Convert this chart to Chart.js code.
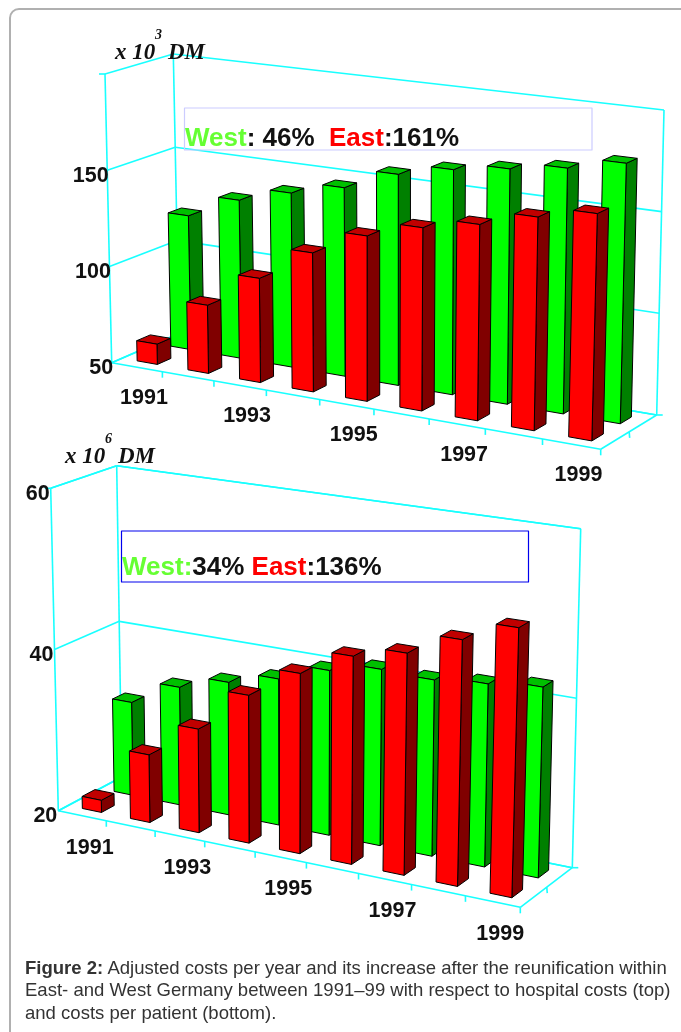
<!DOCTYPE html>
<html>
<head>
<meta charset="utf-8">
<script src="https://cdn.jsdelivr.net/npm/chart.js@4"></script>
<style>
  html, body { margin: 0; padding: 0; background: #fff; width: 681px; height: 1032px; overflow: hidden; }
  #frame { position: absolute; left: 9px; top: 8px; width: 700px; height: 1060px; border: 2px solid #b0b0b0; border-radius: 10px; box-sizing: border-box; }
  canvas { position: absolute; left: 0; top: 0; }
  #caption { position: absolute; left: 25px; top: 957px; width: 655px; font: 18.55px/22.4px "Liberation Sans", Arial, sans-serif; color: #333; white-space: nowrap; }
</style>
</head>
<body>
<div id="frame"></div>
<div id="chartTop"><canvas id="hospital"></canvas></div>
<div id="chartBottom"><canvas id="patient"></canvas></div>
<div id="caption"><b>Figure 2:</b> Adjusted costs per year and its increase after the reunification within<br>East- and West Germany between 1991–99 with respect to hospital costs (top)<br>and costs per patient (bottom).</div>
<script>
//data
var years = ["1991", "1992", "1993", "1994", "1995", "1996", "1997", "1998", "1999"]
var yearLabels = ["1991", "1993", "1995", "1997", "1999"]

var hospitalWest = [120.5, 132.5, 140, 146.5, 157, 163, 167, 171, 177]
var hospitalEast = [60.5, 85, 103, 120, 132.5, 140.5, 146, 153.5, 159]
var hospitalTicks = [50, 100, 150]

var patientWest = [31.7, 34.7, 36.4, 37.9, 40, 41.2, 41, 41.6, 42.3]
var patientEast = [21.5, 28.3, 32.6, 37.8, 41.5, 44.6, 46, 48.6, 51]
var patientTicks = [20, 40, 60]

var greenText = "#66ff33"
var redText = "#ff0000"
var cyan = "#19ffff"

//unit square -> quad
function quadMap(p0, p1, p2, p3) {
  var dx1 = p1[0] - p2[0], dx2 = p3[0] - p2[0], sx = p0[0] - p1[0] + p2[0] - p3[0]
  var dy1 = p1[1] - p2[1], dy2 = p3[1] - p2[1], sy = p0[1] - p1[1] + p2[1] - p3[1]
  var den = dx1 * dy2 - dx2 * dy1
  var g = (sx * dy2 - dx2 * sy) / den
  var h = (dx1 * sy - sx * dy1) / den
  var a = p1[0] - p0[0] + g * p1[0], b = p3[0] - p0[0] + h * p3[0]
  var d = p1[1] - p0[1] + g * p1[1], e = p3[1] - p0[1] + h * p3[1]
  return function(u, v) {
    var q = g * u + h * v + 1
    return [(a * u + b * v + p0[0]) / q, (d * u + e * v + p0[1]) / q]
  }
}

//the plugin draws the walls, the floor and the bars in oblique view, going through the chart scales
var box3d = {
  id: "box3d",
  afterDatasetsDraw: function(chart) {
    var o = chart.options.plugins.box3d
    var ctx = chart.ctx, area = chart.chartArea
    var xs = chart.scales.x, ys = chart.scales.y
    var floor = quadMap(o.floor[0], o.floor[1], o.floor[2], o.floor[3])
    var ceil = quadMap(o.ceil[0], o.ceil[1], o.ceil[2], o.ceil[3])
    function project(u, v, w) {
      var a = floor(u, v), b = ceil(u, v)
      return [a[0] + (b[0] - a[0]) * w, a[1] + (b[1] - a[1]) * w]
    }
    function uOf(px) { return (px - area.left) / area.width }
    function wOf(py) { return (area.bottom - py) / area.height }
    function line(a, b) {
      ctx.beginPath(); ctx.moveTo(a[0], a[1]); ctx.lineTo(b[0], b[1]); ctx.stroke()
    }
    function face(pts, fill) {
      ctx.beginPath()
      pts.forEach(function(p, i) { i ? ctx.lineTo(p[0], p[1]) : ctx.moveTo(p[0], p[1]) })
      ctx.closePath()
      ctx.fillStyle = fill
      ctx.fill()
      ctx.stroke()
    }

    ctx.save()
    //walls and floor
    ctx.strokeStyle = cyan
    ctx.lineWidth = 1.6
    line(project(0, 0, 0), project(0, 0, 1))
    line(project(0, 1, 0), project(0, 1, 1))
    line(project(1, 1, 0), project(1, 1, 1))
    line(project(0, 0, 0), project(1, 0, 0))
    line(project(1, 0, 0), project(1, 1, 0))
    line(project(0, 0, 0), project(0, 1, 0))
    line(project(0, 1, 0), project(1, 1, 0))
    line(project(0, 0, 1), project(0, 1, 1))
    line(project(0, 1, 1), project(1, 1, 1))
    o.ticks.forEach(function(t) {
      var w = wOf(ys.getPixelForValue(t))
      line(project(0, 0, w), project(0, 1, w))
      line(project(0, 1, w), project(1, 1, w))
    })
    //tick marks on the floor edges
    var tickU = years.map(function(y, i) { return uOf(xs.getPixelForValue(i) + xs.width / years.length / 2) })
    tickU.forEach(function(u) {
      var p = project(u, 0, 0)
      line(p, [p[0], p[1] + 6])
    })
    var side = project(1, 0.5, 0)
    line(side, [side[0] + 0.5, side[1] + 6])
    var corner = project(1, 1, 0)
    line(corner, [corner[0] + 6, corner[1]])
    var topCorner = project(0, 0, 1)
    line(topCorner, [topCorner[0] - 6, topCorner[1]])

    //bars: far row first, left to right
    ctx.strokeStyle = "#000"
    ctx.lineWidth = 1
    ctx.lineJoin = "round"
    chart.data.datasets.forEach(function(ds, di) {
      chart.getDatasetMeta(di).data.forEach(function(el) {
        var b = el.getProps(["x", "y", "base", "width"], true)
        var u0 = uOf(b.x - b.width / 2), u1 = uOf(b.x + b.width / 2)
        var w1 = wOf(b.y), w0 = wOf(b.base)
        var v0 = ds.depth[0], v1 = ds.depth[1]
        face([project(u1, v0, w0), project(u1, v1, w0), project(u1, v1, w1), project(u1, v0, w1)], ds.sideColor)
        face([project(u0, v0, w1), project(u1, v0, w1), project(u1, v1, w1), project(u0, v1, w1)], ds.topColor)
        face([project(u0, v0, w0), project(u1, v0, w0), project(u1, v0, w1), project(u0, v0, w1)], ds.frontColor)
      })
    })

    //tick labels
    ctx.fillStyle = "#111"
    ctx.font = "bold 21.5px 'Liberation Sans', Arial, sans-serif"
    ctx.textBaseline = "alphabetic"
    ctx.textAlign = "right"
    o.ticks.forEach(function(t) {
      var p = project(0, 0, wOf(ys.getPixelForValue(t)))
      ctx.fillText(String(t), p[0] + o.tickGap, p[1] + 11.5)
    })
    ctx.textAlign = "center"
    yearLabels.forEach(function(y) {
      var p = project(uOf(xs.getPixelForValue(years.indexOf(y))), 0, 0)
      ctx.fillText(y, p[0] + o.yearOffset[0], p[1] + o.yearOffset[1])
    })

    //title with the exponent
    ctx.textAlign = "left"
    ctx.font = "italic bold 23px 'Liberation Serif', serif"
    ctx.fillText("x 10", o.unit[0], o.unit[1])
    ctx.fillText("DM", o.unit[0] + 53, o.unit[1])
    ctx.font = "italic bold 14px 'Liberation Serif', serif"
    ctx.fillText(o.power, o.unit[0] + 40, o.unit[1] - 20)

    //note box
    ctx.strokeStyle = o.note.border
    ctx.lineWidth = 1.2
    ctx.strokeRect(o.note.box[0], o.note.box[1], o.note.box[2], o.note.box[3])
    ctx.font = "bold 26px 'Liberation Sans', Arial, sans-serif"
    var nx = o.note.at[0]
    o.note.parts.forEach(function(part) {
      ctx.fillStyle = part[1]
      ctx.fillText(part[0], nx, o.note.at[1])
      nx += ctx.measureText(part[0]).width
    })
    ctx.restore()
  }
}

function make3dChart(id, west, east, min, max, ticks, view) {
  var canvas = document.getElementById(id)
  canvas.width = 681
  canvas.height = 1032
  canvas.style.width = "681px"
  canvas.style.height = "1032px"
  return new Chart(canvas, {
    type: "bar",
    data: {
      labels: years,
      datasets: [
        { label: "West", data: west, base: min, depth: [0.65, 0.85], backgroundColor: "transparent",
          frontColor: "#00ff00", sideColor: "#008000", topColor: "#00c000" },
        { label: "East", data: east, base: min, depth: [0.15, 0.35], backgroundColor: "transparent",
          frontColor: "#ff0000", sideColor: "#800000", topColor: "#c00000" }
      ]
    },
    options: {
      responsive: false,
      animation: false,
      devicePixelRatio: 1,
      layout: { padding: 0 },
      datasets: { bar: { grouped: false, categoryPercentage: 1, barPercentage: 0.4 } },
      scales: {
        x: { display: false },
        y: { display: false, min: min, max: max, ticks: { stepSize: ticks[1] - ticks[0] } }
      },
      plugins: {
        legend: { display: false },
        tooltip: { enabled: false },
        box3d: Object.assign({ ticks: ticks }, view)
      }
    },
    plugins: [box3d]
  })
}

make3dChart("hospital", hospitalWest, hospitalEast, 50, 200, hospitalTicks, {
  floor: [[111.7, 362.7], [600.7, 449.3], [656.7, 415], [179, 333.6]],
  ceil: [[105, 74], [609, 134], [664, 110], [173.3, 54]],
  tickGap: 1.5,
  yearOffset: [7, 37],
  unit: [115, 59],
  power: "3",
  note: {
    box: [184.5, 108, 407.5, 42], border: "#ccccff", at: [185, 146],
    parts: [["West", greenText], [": 46%  ", "#111"], ["East", redText], [":161%", "#111"]]
  }
})

make3dChart("patient", patientWest, patientEast, 20, 60, patientTicks, {
  floor: [[58.3, 810.7], [520.3, 907.3], [572.3, 867.7], [121.7, 777]],
  ceil: [[50.7, 488.3], [530, 556], [580.7, 528.7], [116.7, 465.7]],
  tickGap: -1,
  yearOffset: [7.5, 38],
  unit: [65, 463],
  power: "6",
  note: {
    box: [121.5, 531, 407, 51], border: "#0000ee", at: [122, 575],
    parts: [["West:", greenText], ["34% ", "#111"], ["East", redText], [":136%", "#111"]]
  }
})
</script>
</body>
</html>
